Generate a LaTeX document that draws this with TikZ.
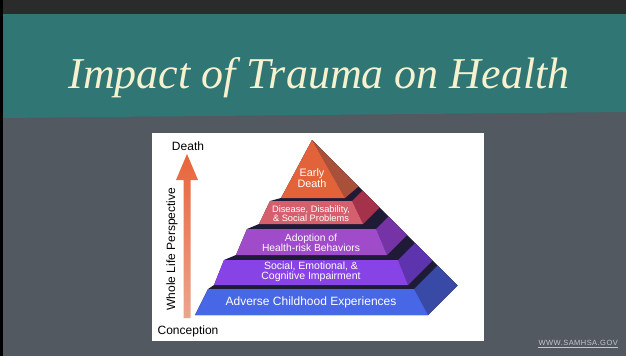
\documentclass[tikz,border=0pt]{standalone}
\usepackage{fontspec}
\setmainfont{Liberation Sans}
\newfontfamily\titlefont{Liberation Serif}
\newfontfamily\webfont{Liberation Sans}[LetterSpace=6]
\definecolor{slate}{HTML}{535961}
\definecolor{topbar}{HTML}{2B2B2B}
\definecolor{tealband}{HTML}{2F7674}
\definecolor{cream}{HTML}{F6F1CF}
\definecolor{gapc}{HTML}{1F1A35}
\definecolor{lonef}{HTML}{E2633A}
\definecolor{lones}{HTML}{A8503A}
\definecolor{ltwof}{HTML}{D65F6E}
\definecolor{ltwos}{HTML}{A3324A}
\definecolor{lthreef}{HTML}{A04BC9}
\definecolor{lthrees}{HTML}{7633A6}
\definecolor{lfourf}{HTML}{8743E6}
\definecolor{lfours}{HTML}{5E33AE}
\definecolor{lfivef}{HTML}{4867E6}
\definecolor{lfives}{HTML}{3849A6}
\definecolor{arrtop}{HTML}{E8643A}
\definecolor{arrbot}{HTML}{EBA58E}
\definecolor{footc}{HTML}{C4C6C8}
\tikzset{
  lbl/.style={text=white, align=center, inner sep=0pt},
  side/.style={inner sep=0pt, text=black},
}
\begin{document}
\begin{tikzpicture}[x=1pt,y=-1pt]
\useasboundingbox (0,0) rectangle (626,356);
% background
\fill[slate] (0,0) rectangle (626,356);
\fill[topbar] (0,0) rectangle (626,14);
\fill[tealband] (0,14) -- (626,14) -- (626,112) -- (0,118) -- cycle;
\fill[black] (0,0) rectangle (3,356);
\node[anchor=base, inner sep=0pt, text=cream, font=\titlefont\itshape\fontsize{44}{48}\selectfont] (title) at (319,88) {Impact of Trauma on Health};
% white picture box
\fill[white] (152,133) rectangle (484,341);
% pyramid: dark silhouette for gaps
\fill[gapc] (312,140) -- (281,198) -- (270,201) -- (259,224) -- (247,229) -- (236,255) -- (224,260) -- (214,285) -- (208,289) -- (195,315) -- (428,315) -- (457.5,285.5) -- cycle;
% layer 1
\fill[lones] (312,140) -- (358.5,186.5) -- (345,198) -- cycle;
\fill[lonef] (312,140) -- (345,198) -- (281,198) -- cycle;
% layer 2
\fill[ltwos] (352,201) -- (362.5,190.5) -- (379.5,207.5) -- (363,224) -- cycle;
\fill[ltwof] (270,201) -- (352,201) -- (363,224) -- (259,224) -- cycle;
% layer 3
\fill[lthrees] (376,229) -- (388.5,216.5) -- (407,235) -- (387,255) -- cycle;
\fill[lthreef] (247,229) -- (376,229) -- (387,255) -- (236,255) -- cycle;
% layer 4
\fill[lfours] (398,260) -- (415,243) -- (432.5,260.5) -- (408,285) -- cycle;
\fill[lfourf] (224,260) -- (398,260) -- (408,285) -- (214,285) -- cycle;
% layer 5
\fill[lfives] (414,289) -- (437.5,265.5) -- (457.5,285.5) -- (428,315) -- cycle;
\fill[lfivef] (208,289) -- (414,289) -- (428,315) -- (195,315) -- cycle;
% labels
\node[lbl, font=\fontsize{10.8}{11}\selectfont] (t1) at (312,178.5) {Early\\Death};
\node[lbl, font=\fontsize{9.3}{9.5}\selectfont] (t2) at (311,213.5) {Disease, Disability,\\\& Social Problems};
\node[lbl, font=\fontsize{10.3}{10}\selectfont] (t3) at (311,243) {Adoption of\\Health-risk Behaviors};
\node[lbl, font=\fontsize{10.5}{10}\selectfont] (t4) at (311,272) {Social, Emotional, \&\\Cognitive Impairment};
\node[lbl, font=\fontsize{12}{12}\selectfont] (t5) at (311,302) {Adverse Childhood Experiences};
% arrow
\shade[top color=arrtop, bottom color=arrbot] (183.5,318) -- (183.5,180) -- (176,180) -- (187,154) -- (198,180) -- (190.5,180) -- (190.5,318) -- cycle;
\node[side, font=\fontsize{12}{12}\selectfont] (death) at (188,146) {Death};
\node[side, font=\fontsize{12}{12}\selectfont] (conc) at (188,331) {Conception};
\node[side, rotate=90, font=\fontsize{12}{12}\selectfont] (wlp) at (172,249) {Whole Life Perspective};
% footer
\node[inner sep=0pt, anchor=east, text=footc, font=\webfont\fontsize{7.5}{8}\selectfont] (web) at (618,343) {WWW.SAMHSA.GOV};
\draw[footc, line width=0.8pt] ([yshift=-1.5pt]web.south west) -- ([yshift=-1.5pt]web.south east);
\end{tikzpicture}
\end{document}
